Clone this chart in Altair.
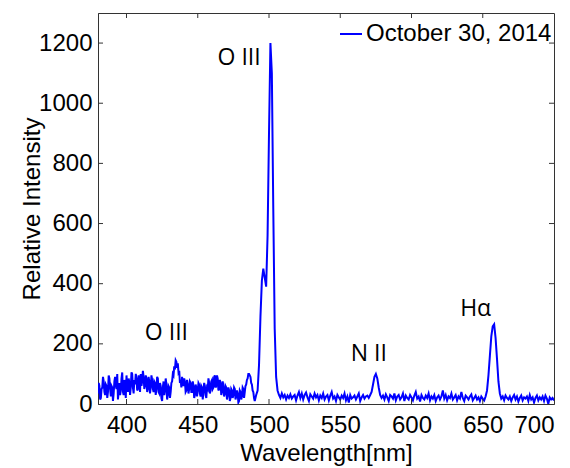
import altair as alt
import pandas as pd

# Spectrum.
# Blue (noisy) part: 0.5 nm steps from 380.0 to 489.5 nm
blue_start, blue_step = 380.0, 0.5
intensity_blue = [
    35, 70, 60, 15, 20, 50, 55, 90, 75, 40,
    30, 65, 60, 20, 40, 95, 85, 50, 25, 60,
    55, 10, 35, 75, 90, 60, 50, 100, 15, 40,
    70, 30, 45, 85, 105, 40, 30, 80, 65, 20,
    95, 60, 40, 85, 70, 30, 55, 105, 100, 55,
    35, 80, 65, 100, 85, 45, 50, 95, 70, 40,
    100, 60, 75, 110, 90, 50, 60, 95, 85, 40,
    50, 90, 75, 35, 55, 95, 80, 50, 40, 75,
    70, 30, 50, 90, 85, 40, 35, 70, 60, 20,
    10, 55, 75, 30, 45, 85, 65, 15, 30, 60,
    55, 20, 40, 70, 75, 100, 95, 125, 115, 145,
    140, 120, 135, 105, 110, 70, 80, 55, 90, 70,
    60, 85, 75, 40, 45, 80, 65, 35, 50, 75,
    70, 40, 40, 75, 60, 20, 30, 65, 55, 25,
    45, 70, 65, 35, 25, 60, 55, 15, 40, 70,
    60, 30, 20, 55, 50, 85, 70, 35, 45, 75,
    80, 50, 55, 90, 95, 55, 60, 95, 85, 45,
    50, 80, 70, 30, 40, 75, 60, 25, 35, 60,
    55, 15, 30, 55, 45, 10, 20, 50, 45, 20,
    30, 55, 50, 15, 25, 45, 35, 5, 10, 45,
    40, 15, 25, 55, 50, 20, 40, 60, 65, 80,
    85, 100, 100, 95, 90, 70, 65, 45, 40, 20,
]
# Rest: 1 nm steps from 490 to 700 nm
red_start, red_step = 490, 1
intensity_red = [
    10, 30, 45, 130, 290, 410, 450, 420, 390, 560,
    900, 1200, 1100, 650, 250, 90, 45, 30, 20, 35,
    22, 30, 15, 28, 20, 32, 18, 25, 30, 12,
    28, 40, 20, 35, 15, 30, 38, 22, 10, 32,
    25, 18, 35, 22, 30, 12, 28, 20, 35, 15,
    25, 30, 12, 28, 40, 18, 25, 10, 30, 22,
    15, 28, 20, 35, 12, 25, 5, 30, 18, 22,
    28, 15, 25, 35, 10, 22, 30, 18, 25, 28,
    20, 30, 40, 65, 90, 100, 85, 55, 30, 20,
    28, 15, 32, 22, 10, 30, 25, 18, 35, 12,
    25, 30, 15, 22, 35, 10, 28, 20, 15, 30,
    22, 12, 28, 40, 18, 25, 8, 30, 20, 15,
    28, 20, 35, 12, 25, 18, 30, 10, 22, 28,
    15, 25, 45, 18, 30, 12, 25, 20, 35, 15,
    22, 30, 12, 25, 18, 40, 20, 10, 28, 22,
    15, 25, 32, 12, 20, 28, 15, 22, 10, 25,
    18, 12, 25, 45, 95, 160, 225, 258, 265, 220,
    150, 75, 35, 18, 25, 12, 28, 20, 15, 25,
    10, 22, 30, 15, 25, 8, 20, 28, 12, 22,
    18, 25, 10, 30, 15, 22, 5, 20, 28, 12,
    22, 15, 25, 10, 28, 18, 0, 22, 15, 20,
    12,
]
series_name = "October 30, 2014"

label_text = ["O III", "O III", "N II", "H\u03b1"]
label_x = [479, 428, 570, 645]
label_y = [1149, 235, 166, 316]

x_ticks = [400, 450, 500, 550, 600, 650, 700]
y_ticks = [0, 200, 400, 600, 800, 1000, 1200]
x_domain = [380, 700]
y_domain = [0, 1300]

W, H = 456, 391
FONT = "Liberation Sans"
FRAME = "#333333"

wavelength = [blue_start + i * blue_step for i in range(len(intensity_blue))] + \
             [red_start + i * red_step for i in range(len(intensity_red))]
spec = pd.DataFrame({"wl": wavelength, "val": intensity_blue + intensity_red,
                     "series": series_name})
labels = pd.DataFrame({"t": label_text, "x": label_x, "y": label_y})
xt = pd.DataFrame({"t": x_ticks[:-1]})
yt = pd.DataFrame({"t": y_ticks[1:]})

xscale = alt.Scale(domain=x_domain, nice=False, zero=False)
yscale = alt.Scale(domain=y_domain, nice=False)

line = alt.Chart(spec).mark_line(strokeWidth=2, clip=True).encode(
    x=alt.X("wl:Q", scale=xscale, title="Wavelength[nm]",
            axis=alt.Axis(values=x_ticks, ticks=False, labelPadding=9, format="d")),
    y=alt.Y("val:Q", scale=yscale, title="Relative Intensity",
            axis=alt.Axis(values=y_ticks, ticks=False, labelPadding=6, format="d",
                          titlePadding=-6)),
    color=alt.Color("series:N", scale=alt.Scale(range=["#0000ff"]),
                    legend=alt.Legend(orient="none", legendX=241, legendY=9, title=None,
                                      symbolType="stroke", symbolSize=484,
                                      symbolStrokeWidth=2, labelFontSize=24,
                                      labelFont=FONT, labelColor="black", padding=0,
                                      labelOffset=3, labelLimit=400)),
)

text = alt.Chart(labels).mark_text(font="Open Sans", fontSize=23, color="black",
                                   align="center", baseline="middle").encode(
    x="x:Q", y="y:Q", text="t:N")

tick_bottom = alt.Chart(xt).mark_rule(color=FRAME).encode(x="t:Q", y=alt.value(H), y2=alt.value(H - 5))
tick_top = alt.Chart(xt).mark_rule(color=FRAME).encode(x="t:Q", y=alt.value(0), y2=alt.value(5))
tick_left = alt.Chart(yt).mark_rule(color=FRAME).encode(y="t:Q", x=alt.value(0), x2=alt.value(5))
tick_right = alt.Chart(yt).mark_rule(color=FRAME).encode(y="t:Q", x=alt.value(W), x2=alt.value(W - 5))

chart = alt.layer(line, text, tick_bottom, tick_top, tick_left, tick_right).properties(
    width=W, height=H,
    autosize=alt.AutoSizeParams(type="none"),
    padding={"left": 98, "top": 13, "right": 16, "bottom": 64},
).configure_view(stroke=FRAME, strokeWidth=1).configure_axis(
    domainColor=FRAME, labelFont=FONT, labelFontSize=24, labelColor="black",
    titleFont=FONT, titleFontSize=24, titleFontWeight="normal", titleColor="black",
    grid=False,
).configure_axisX(titlePadding=4)

chart.save("out.html", embed_options={"renderer": "svg", "actions": False})
